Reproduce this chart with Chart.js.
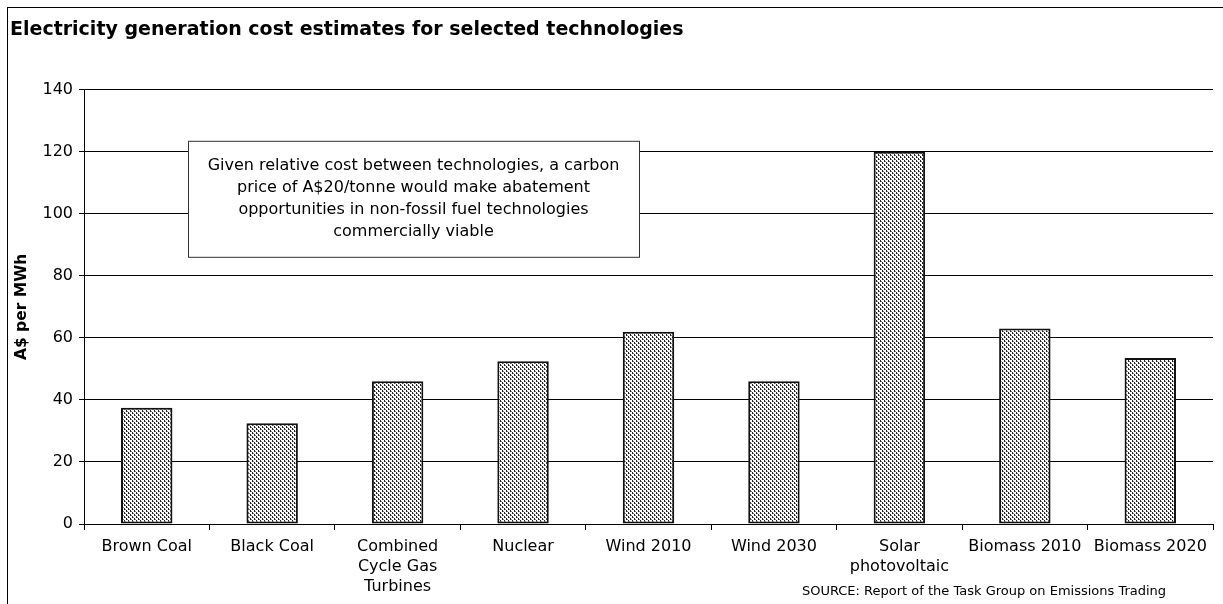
<!DOCTYPE html>
<html>
<head>
<meta charset="utf-8">
<script src="https://cdn.jsdelivr.net/npm/chart.js@4.4.0/dist/chart.umd.min.js"></script>
<style>
  html, body { margin: 0; padding: 0; background: #fff; }
  #wrap { width: 1223px; height: 604px; }
</style>
</head>
<body>
<div id="wrap"><canvas id="myChart" width="1223" height="604"></canvas></div>
<script>
var categories = [
    'Brown Coal',
    'Black Coal',
    ['Combined', 'Cycle Gas', 'Turbines'],
    'Nuclear',
    'Wind 2010',
    'Wind 2030',
    ['Solar', 'photovoltaic'],
    'Biomass 2010',
    'Biomass 2020'
];
var costs = [37.5, 32.5, 46, 52.5, 62, 46, 120, 63, 53.5];
var yTicks = [0, 20, 40, 60, 80, 100, 120, 140];

var noteLines = [
    'Given relative cost between technologies, a carbon',
    'price of A$20/tonne would make abatement',
    'opportunities in non-fossil fuel technologies',
    'commercially viable'
];
var sourceText = 'SOURCE: Report of the Task Group on Emissions Trading';

var FONT = "'DejaVu Sans', Verdana, sans-serif";

// dotted fill like the old excel pattern
function makePattern() {
    var c = document.createElement('canvas');
    c.width = 4;
    c.height = 4;
    var g = c.getContext('2d');
    g.fillStyle = '#ffffff';
    g.fillRect(0, 0, 4, 4);
    g.fillStyle = '#222';
    g.fillRect(0, 0, 1, 2);
    g.fillRect(2, 2, 1, 2);
    g.fillStyle = '#888';
    g.fillRect(1, 1, 1, 1);
    g.fillRect(3, 3, 1, 1);
    return g.createPattern(c, 'repeat');
}

var extras = {
    id: 'extras',
    afterDraw: function (chart) {
        var ctx = chart.ctx;
        var area = chart.chartArea;
        ctx.save();
        // outer frame (left + top visible)
        ctx.strokeStyle = '#000';
        ctx.lineWidth = 1;
        ctx.strokeRect(7.5, 7.5, 1230, 620);

        // note box
        var bx = area.left + 104, by = area.top + 51, bw = 451, bh = 116;
        ctx.fillStyle = '#fff';
        ctx.fillRect(bx, by, bw, bh);
        ctx.strokeStyle = '#333';
        ctx.strokeRect(bx + 0.5, by + 0.5, bw, bh);
        ctx.fillStyle = '#000';
        ctx.font = '16px ' + FONT;
        ctx.textAlign = 'center';
        ctx.textBaseline = 'middle';
        for (var i = 0; i < noteLines.length; i++) {
            ctx.fillText(noteLines[i], bx + bw / 2, by + 25 + i * 22);
        }

        // source
        ctx.font = '13px ' + FONT;
        ctx.fillText(sourceText, 984, 592);
        ctx.restore();
    }
};

var ctx = document.getElementById('myChart').getContext('2d');
var myChart = new Chart(ctx, {
    type: 'bar',
    data: {
        labels: categories,
        datasets: [{
            label: 'A$ per MWh',
            data: costs,
            backgroundColor: makePattern(),
            borderColor: '#111',
            borderWidth: 2,
            borderSkipped: false,
            barPercentage: 0.82,
            categoryPercentage: 0.5
        }]
    },
    options: {
        responsive: false,
        animation: false,
        layout: {
            padding: { left: 10, right: 10, top: 0, bottom: 0 }
        },
        plugins: {
            legend: { display: false },
            tooltip: { enabled: false },
            title: {
                display: true,
                text: 'Electricity generation cost estimates for selected technologies',
                align: 'start',
                color: '#000',
                font: { family: FONT, size: 19, weight: 'bold' },
                padding: { top: 19, bottom: 48 }
            }
        },
        scales: {
            x: {
                grid: {
                    display: true,
                    drawOnChartArea: false,
                    offset: true,
                    color: '#000',
                    tickLength: 6
                },
                border: { color: '#000', width: 1 },
                ticks: {
                    color: '#000',
                    font: { family: FONT, size: 16, lineHeight: 1.25 },
                    padding: 7,
                    maxRotation: 0,
                    autoSkip: false
                },
                afterFit: function (scale) { scale.height = 80; }
            },
            y: {
                min: 0,
                max: 140,
                afterBuildTicks: function (scale) {
                    scale.ticks = yTicks.map(function (v) { return { value: v }; });
                },
                grid: {
                    color: '#000',
                    lineWidth: 1,
                    tickLength: 5
                },
                border: { color: '#000', width: 1 },
                ticks: {
                    color: '#000',
                    font: { family: FONT, size: 16 },
                    padding: 6
                },
                title: {
                    display: true,
                    text: 'A$ per MWh',
                    color: '#000',
                    font: { family: FONT, size: 15.5, weight: 'bold' },
                    padding: { top: 3, bottom: 0 }
                },
                afterFit: function (scale) { scale.width = 74; }
            }
        }
    },
    plugins: [extras]
});
</script>
</body>
</html>
